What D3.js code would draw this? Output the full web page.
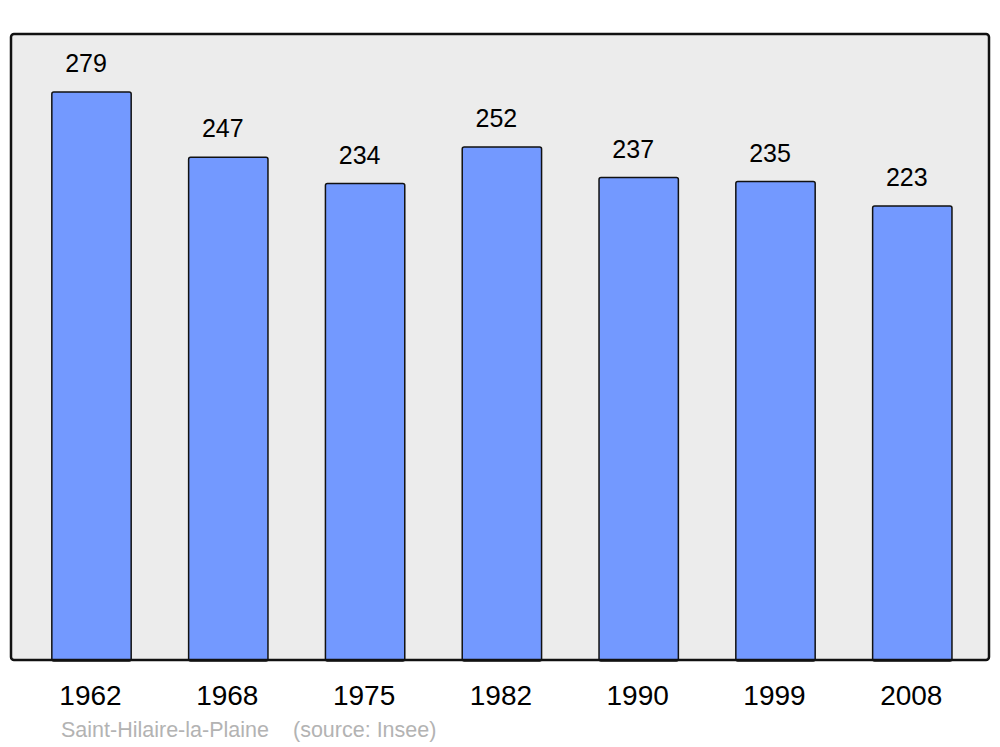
<!DOCTYPE html>
<html><head><meta charset="utf-8">
<script src="https://cdn.jsdelivr.net/npm/d3@7"></script>
<style>body{margin:0;background:#fff}svg{display:block;font-family:"Liberation Sans",Arial,sans-serif}</style>
</head><body>
<script>
const years = ["1962","1968","1975","1982","1990","1999","2008"];
const population = [279,247,234,252,237,235,223];
const commune = "Saint-Hilaire-la-Plaine";
const source = "(source: Insee)";

const W = 1000, H = 747;
const svg = d3.select("body").append("svg").attr("width", W).attr("height", H);

const panel = {x0: 11, y0: 34, x1: 989, y1: 660};
svg.append("rect").attr("x", panel.x0).attr("y", panel.y0)
  .attr("width", panel.x1 - panel.x0).attr("height", panel.y1 - panel.y0)
  .attr("rx", 3).attr("fill", "#ececec");

const x = d3.scaleBand().domain(years).range([23.1, 980.7]).paddingInner(0.42).paddingOuter(0.21);
const y = d3.scaleLinear().domain([0, 279 * 626 / 568]).range([panel.y1, panel.y0]);

const data = years.map((yr, i) => ({yr, v: population[i]}));

svg.selectAll("rect.bar").data(data).enter().append("rect").attr("class", "bar")
  .attr("x", d => x(d.yr)).attr("y", d => y(d.v))
  .attr("width", x.bandwidth()).attr("height", d => y(0) - y(d.v) + 1)
  .attr("rx", 2).attr("fill", "#7399ff").attr("stroke", "#111").attr("stroke-width", 1.5);

svg.append("rect").attr("x", panel.x0).attr("y", panel.y0)
  .attr("width", panel.x1 - panel.x0).attr("height", panel.y1 - panel.y0)
  .attr("rx", 3).attr("fill", "none").attr("stroke", "#111").attr("stroke-width", 2.5);

svg.selectAll("text.val").data(data).enter().append("text").attr("class", "val")
  .attr("x", d => x(d.yr) + x.bandwidth() / 2 - 5.5).attr("y", d => y(d.v) - 20)
  .attr("text-anchor", "middle").attr("font-size", 25).attr("fill", "#000").text(d => d.v);

svg.selectAll("text.yr").data(data).enter().append("text").attr("class", "yr")
  .attr("x", d => x(d.yr) + x.bandwidth() / 2 - 1).attr("y", 705)
  .attr("text-anchor", "middle").attr("font-size", 28).attr("fill", "#000").text(d => d.yr);

svg.append("text").attr("x", 61).attr("y", 737).attr("font-size", 21.5).attr("fill", "#b3b3b3").text(commune);
svg.append("text").attr("x", 293).attr("y", 737).attr("font-size", 21.5).attr("fill", "#b3b3b3").text(source);
</script>
</body></html>
